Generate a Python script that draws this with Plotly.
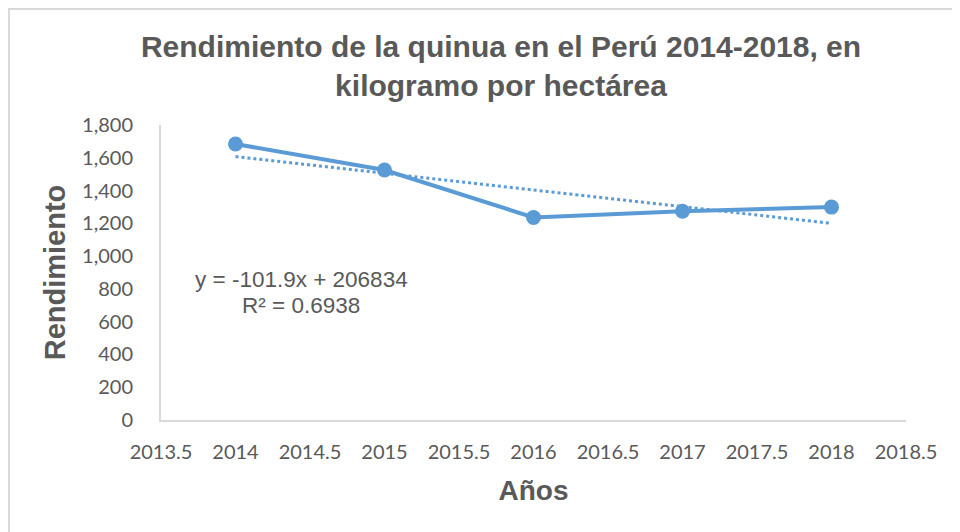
import numpy as np
import plotly.graph_objects as go

# Data
years = [2014, 2015, 2016, 2017, 2018]
rendimiento = [1684, 1525, 1236, 1274, 1299]
x_tick_vals = [2013.5, 2014, 2014.5, 2015, 2015.5, 2016, 2016.5, 2017, 2017.5, 2018, 2018.5]
x_tick_text = ["2013.5", "2014", "2014.5", "2015", "2015.5", "2016", "2016.5", "2017", "2017.5", "2018", "2018.5"]
y_tick_vals = [0, 200, 400, 600, 800, 1000, 1200, 1400, 1600, 1800]
trend_slope = -101.9
trend_intercept = 206834
equation_text = "y = -101.9x + 206834"
r2_text = "R² = 0.6938"

BLUE = "#5B9BD5"
TEXT = "#595959"
AXIS = "#D9D9D9"

trend_y = [trend_slope * x + trend_intercept for x in [years[0], years[-1]]]

fig = go.Figure()
fig.add_trace(go.Scatter(
    x=[years[0], years[-1]], y=trend_y, mode="lines",
    line=dict(color=BLUE, width=3, dash="dot"), hoverinfo="skip", showlegend=False,
))
fig.add_trace(go.Scatter(
    x=years, y=rendimiento, mode="lines+markers",
    line=dict(color=BLUE, width=4),
    marker=dict(color=BLUE, size=15),
    showlegend=False,
))

OFF = 8  # page body margin
W, H = 960, 532
# target plot area in screen coords: left 161, right 906, top 125, bottom 420
L = 161 - OFF
T = 125 - OFF
R = W - (906 - OFF)
B = H - (420 - OFF)
pw, ph = W - L - R, H - T - B


def px(sx):
    return (sx - OFF - L) / pw


def py(sy):
    return 1 - (sy - OFF - T) / ph


fig.update_layout(
    width=W, height=H,
    margin=dict(l=L, r=R, t=T, b=B, pad=0),
    paper_bgcolor="white", plot_bgcolor="white",
    title=dict(
        text="Rendimiento de la quinua en el Perú 2014-2018, en<br>kilogramo por hectárea",
        x=(501 - OFF) / W, xanchor="center", xref="container",
        y=1 - 49 / H, yanchor="top", yref="container",
        font=dict(family="Liberation Sans, Arial", size=30, color=TEXT, weight="bold"),
    ),
    xaxis=dict(
        range=[2013.5, 2018.5], tickvals=x_tick_vals, ticktext=x_tick_text,
        showgrid=False, zeroline=False, showline=True, linecolor=AXIS, linewidth=2,
        ticks="", ticklabelstandoff=13,
        tickfont=dict(family="Lato, Liberation Sans", size=20, color=TEXT),
        title=dict(text="Años", standoff=18,
                   font=dict(family="Liberation Sans, Arial", size=28, color=TEXT, weight="bold")),
    ),
    yaxis=dict(
        range=[0, 1800], tickvals=y_tick_vals, tickformat=",",
        showgrid=False, zeroline=False, showline=True, linecolor=AXIS, linewidth=2,
        ticks="", ticklabelstandoff=22,
        tickfont=dict(family="Lato, Liberation Sans", size=20, color=TEXT),
        title=dict(text="Rendimiento", standoff=8,
                   font=dict(family="Liberation Sans, Arial", size=29, color=TEXT, weight="bold")),
    ),
    shapes=[dict(
        type="rect", xref="paper", yref="paper",
        x0=px(9), x1=px(W + 30),
        y0=py(H + 30), y1=py(9),
        line=dict(color=AXIS, width=2), fillcolor="rgba(0,0,0,0)", layer="below",
    )],
    annotations=[
        dict(text=equation_text, x=px(301), y=py(279), xref="paper", yref="paper",
             showarrow=False, xanchor="center", yanchor="middle",
             font=dict(family="Liberation Sans, Arial", size=22.5, color=TEXT)),
        dict(text=r2_text, x=px(301), y=py(305), xref="paper", yref="paper",
             showarrow=False, xanchor="center", yanchor="middle",
             font=dict(family="Liberation Sans, Arial", size=22.5, color=TEXT)),
    ],
)

fig.write_html("out.html")
